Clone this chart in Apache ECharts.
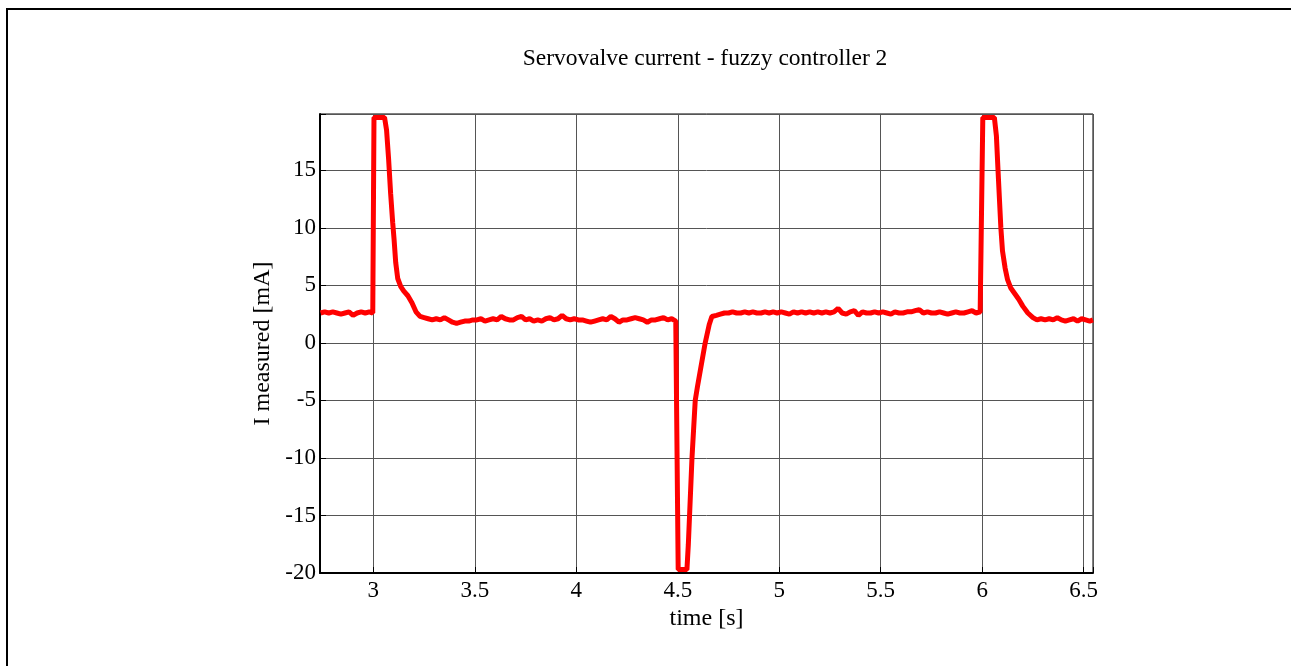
<!DOCTYPE html>
<html>
<head>
<meta charset="utf-8">
<script src="https://cdn.jsdelivr.net/npm/echarts@6/dist/echarts.min.js"></script>
<style>
  html, body { margin: 0; padding: 0; background: #fff; }
  #main { width: 1291px; height: 666px; }
  #frame {
    position: absolute; left: 6px; top: 8px; right: 0; bottom: 0;
    border-top: 2px solid #000; border-left: 2px solid #000;
    pointer-events: none;
  }
</style>
</head>
<body>
<div id="main"></div>
<div id="frame"></div>
<script>
// time [s]
const timeS = [
  2.74, 2.76, 2.78, 2.80, 2.82, 2.84, 2.86, 2.88, 2.90, 2.92, 2.94, 2.96, 2.98, 2.997,
  3.003, 3.055, 3.065, 3.075, 3.085, 3.095, 3.102, 3.11, 3.12, 3.135, 3.15, 3.17, 3.19,
  3.21, 3.23, 3.25, 3.27, 3.29, 3.31, 3.33, 3.35, 3.37, 3.39, 3.41, 3.43, 3.45,
  3.47, 3.49, 3.51, 3.53, 3.55, 3.57, 3.59, 3.61, 3.63, 3.65, 3.67, 3.69, 3.71, 3.73,
  3.75, 3.77, 3.79, 3.81, 3.83, 3.85, 3.87, 3.89, 3.91, 3.93, 3.95, 3.97, 3.99, 4.01,
  4.03, 4.05, 4.07, 4.09, 4.11, 4.13, 4.15, 4.17, 4.19, 4.21, 4.23, 4.25, 4.27, 4.29,
  4.31, 4.33, 4.35, 4.37, 4.39, 4.41, 4.43, 4.45, 4.47, 4.49, 4.497,
  4.502, 4.545, 4.552, 4.558, 4.57, 4.586, 4.597, 4.615, 4.635, 4.655, 4.668, 4.69,
  4.71, 4.73, 4.75,
  4.77, 4.79, 4.81, 4.83, 4.85, 4.87, 4.89, 4.91, 4.93, 4.95, 4.97, 4.99, 5.01, 5.03,
  5.05, 5.07, 5.09, 5.11, 5.13, 5.15, 5.17, 5.19, 5.21, 5.23, 5.25, 5.27, 5.29, 5.31,
  5.33, 5.35, 5.37, 5.39, 5.41, 5.43, 5.45, 5.47, 5.49, 5.51, 5.53, 5.55, 5.57, 5.59,
  5.61, 5.63, 5.65, 5.67, 5.69, 5.71, 5.73, 5.75, 5.77, 5.79, 5.81, 5.83, 5.85, 5.87,
  5.89, 5.91, 5.93, 5.95, 5.97, 5.99, 5.997,
  6.003, 6.06, 6.07, 6.078, 6.092, 6.10, 6.113, 6.125, 6.14, 6.16, 6.18, 6.20, 6.225,
  6.25, 6.27, 6.29, 6.31, 6.33, 6.35, 6.37, 6.39, 6.41, 6.43, 6.45, 6.47, 6.49, 6.51,
  6.53, 6.546
];

// I measured [mA]
const currentMA = [
  2.6, 2.7, 2.6, 2.7, 2.6, 2.5, 2.6, 2.7, 2.4, 2.6, 2.7, 2.6, 2.7, 2.6,
  19.6, 19.6, 18.5, 16, 13, 10.5, 9, 7, 5.6, 4.9, 4.5, 4.1, 3.5,
  2.7, 2.3, 2.2, 2.1, 2.0, 2.1, 2.0, 2.2, 2.0, 1.8, 1.7, 1.8, 1.9,
  1.9, 2.0, 2.0, 2.1, 1.9, 2.0, 2.1, 2.0, 2.3, 2.1, 2.0, 2.0, 2.2, 2.3,
  2.0, 2.1, 1.9, 2.0, 1.9, 2.1, 2.2, 2.0, 2.1, 2.4, 2.1, 2.0, 2.1, 2.0,
  2.0, 1.9, 1.8, 1.9, 2.0, 2.1, 2.0, 2.3, 2.1, 1.8, 2.0, 2.0, 2.1, 2.2,
  2.1, 2.0, 1.8, 2.0, 2.0, 2.1, 2.2, 2.0, 2.1, 1.9, 1.9,
  -19.7, -19.7, -17.5, -15, -10, -5, -3.8, -2, 0, 1.6, 2.3, 2.4,
  2.5, 2.6, 2.6,
  2.7, 2.6, 2.6, 2.7, 2.6, 2.7, 2.6, 2.6, 2.7, 2.6, 2.7, 2.6, 2.7, 2.6,
  2.5, 2.7, 2.6, 2.7, 2.6, 2.7, 2.6, 2.7, 2.6, 2.7, 2.6, 2.7, 3.0, 2.6,
  2.5, 2.7, 2.8, 2.4, 2.7, 2.6, 2.6, 2.7, 2.6, 2.7, 2.6, 2.5, 2.7, 2.6,
  2.6, 2.7, 2.7, 2.8, 2.9, 2.6, 2.7, 2.6, 2.6, 2.7, 2.6, 2.5, 2.6, 2.7,
  2.6, 2.6, 2.7, 2.8, 2.6, 2.7, 2.6,
  19.6, 19.6, 18, 15, 10, 8, 6.5, 5.5, 4.8, 4.3, 3.8, 3.2, 2.6,
  2.2, 2.0, 2.1, 2.0, 2.1, 2.0, 2.2, 2.0, 1.9, 2.0, 2.1, 1.9, 2.1, 2.0,
  1.9, 2.0
];

const xMin = 2.737, xMax = 6.546;
const yMin = -20, yMax = 19.9;

const font = 'Liberation Serif';
const onStep = (v, step) => Math.abs(v / step - Math.round(v / step)) < 1e-6;

const chart = echarts.init(document.getElementById('main'));
chart.setOption({
  animation: false,
  title: {
    text: 'Servovalve current - fuzzy controller 2',
    left: 700,
    top: 42,
    textAlign: 'center',
    textStyle: { fontFamily: font, fontSize: 23.5, fontWeight: 'normal', color: '#000' }
  },
  grid: {
    left: 320, top: 114, width: 773, height: 459,
    show: true, borderColor: '#000', borderWidth: 1, backgroundColor: '#fff'
  },
  xAxis: {
    type: 'value',
    min: xMin, max: xMax,
    splitNumber: 8, minInterval: 0.5, maxInterval: 0.5,
    name: 'time [s]',
    nameLocation: 'middle',
    nameGap: 31,
    nameTextStyle: { fontFamily: font, fontSize: 24, color: '#000' },
    axisLine: { onZero: false, lineStyle: { color: '#000', width: 2 } },
    axisTick: { inside: true, length: 6, lineStyle: { color: '#000' } },
    axisLabel: {
      margin: 6, fontFamily: font, fontSize: 23, color: '#000',
      formatter: v => onStep(v, 0.5) ? String(+v.toFixed(2)) : ''
    },
    splitLine: { show: true, lineStyle: { color: '#555', width: 1 } }
  },
  yAxis: {
    type: 'value',
    min: yMin, max: yMax, interval: 5,
    name: 'I measured [mA]',
    nameLocation: 'middle',
    nameGap: 38,
    nameTextStyle: { fontFamily: font, fontSize: 24, color: '#000' },
    axisLine: { onZero: false, lineStyle: { color: '#000', width: 2 } },
    axisTick: { inside: true, length: 6, lineStyle: { color: '#000' } },
    axisLabel: {
      margin: 4, fontFamily: font, fontSize: 23, color: '#000',
      formatter: v => onStep(v, 5) ? String(Math.round(v)) : ''
    },
    splitLine: { show: true, lineStyle: { color: '#555', width: 1 } }
  },
  series: [{
    type: 'line',
    data: timeS.map((t, i) => [t, currentMA[i]]),
    showSymbol: false,
    lineStyle: { color: '#ff0000', width: 5 },
    itemStyle: { color: '#ff0000' },
    clip: true
  }]
});
</script>
</body>
</html>
